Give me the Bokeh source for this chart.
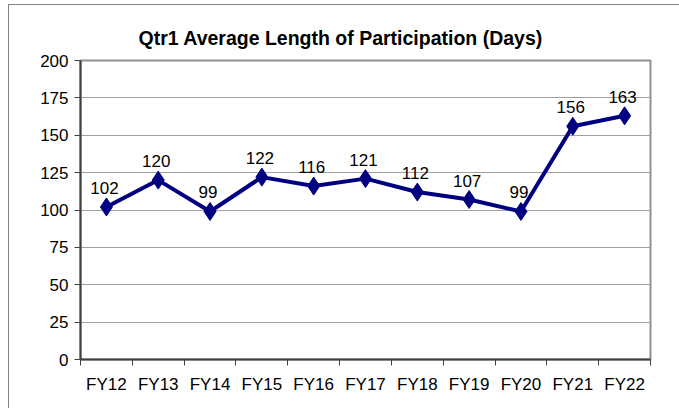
from bokeh.plotting import figure
from bokeh.models import FixedTicker, ColumnDataSource, Range1d
from bokeh.core.properties import value
from bokeh.embed import file_html
from bokeh.resources import INLINE

categories = ["FY12", "FY13", "FY14", "FY15", "FY16", "FY17", "FY18", "FY19", "FY20", "FY21", "FY22"]
values = [102, 120, 99, 122, 116, 121, 112, 107, 99, 156, 163]
y_ticks = [0, 25, 50, 75, 100, 125, 150, 175, 200]

FONT = "Liberation Sans"
NAVY = "#000080"

xs = [i + 0.5 for i in range(len(categories))]
src = ColumnDataSource(dict(x=xs, y=values, lbl=[str(v) for v in values]))

p = figure(width=671, height=404, output_backend="svg", toolbar_location=None,
           x_range=Range1d(0, len(categories)), y_range=Range1d(0, 200),
           min_border_left=71, min_border_right=30, min_border_top=55, min_border_bottom=50)
p.styles = {"border-left": "1px solid #808080", "border-top": "1px solid #808080",
            "margin-left": "8px", "margin-top": "4px"}

p.title.text = "Qtr1 Average Length of Participation (Days)"
p.title.align = "left"
p.title.text_font = FONT
p.title.text_font_size = "19.5px"
p.title.text_font_style = "bold"
p.title.text_color = "#000000"
p.title.offset = 58
p.title.standoff = 23

p.line("x", "y", source=src, line_color=NAVY, line_width=4)
p.scatter("x", "y", source=src, marker="diamond", size=18, fill_color=NAVY, line_color=NAVY)
p.text("x", "y", text="lbl", source=src, text_align="center", text_baseline="bottom",
       y_offset=-13, x_offset=-2, text_font_size="17px", text_color="#000000",
       text_font=value(FONT))

# x axis: labels at category centers, ticks at boundaries
p.xaxis.ticker = FixedTicker(ticks=xs, minor_ticks=list(range(len(categories) + 1)))
p.xaxis.major_label_overrides = {x: c for x, c in zip(xs, categories)}
p.xaxis.major_tick_line_color = None
p.xaxis.minor_tick_in = 0
p.xaxis.minor_tick_out = 6
p.xaxis.minor_tick_line_color = "#404040"
p.xaxis.minor_tick_line_width = 1
p.xaxis.major_label_standoff = 9

p.yaxis.ticker = FixedTicker(ticks=y_ticks)
p.yaxis.major_tick_in = 0
p.yaxis.major_tick_out = 6
p.yaxis.minor_tick_line_color = None
p.yaxis.major_tick_line_color = "#404040"
p.yaxis.major_label_standoff = 6

for ax in (p.xaxis, p.yaxis):
    ax.axis_line_color = "#404040"
    ax.axis_line_width = 2
    ax.major_label_text_font = FONT
    ax.major_label_text_font_size = "17px"
    ax.major_label_text_color = "#000000"

p.xgrid.grid_line_color = None
p.ygrid.ticker = FixedTicker(ticks=y_ticks)
p.ygrid.grid_line_color = "#a0a0a0"
p.ygrid.grid_line_width = 1

p.outline_line_color = "#909090"
p.outline_line_width = 2
p.background_fill_color = "white"
p.border_fill_color = "white"

open("out.html", "w").write(file_html(p, INLINE))
